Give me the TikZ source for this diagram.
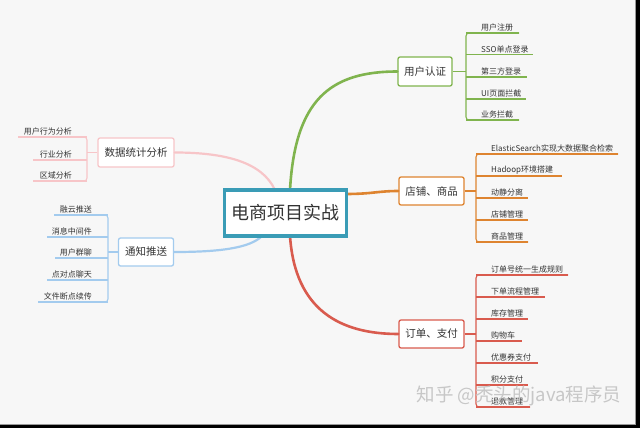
\documentclass[tikz,border=0pt]{standalone}
\usepackage{fontspec}
\setmainfont{Noto Sans CJK SC}
\begin{document}
\begin{tikzpicture}[x=1pt,y=-1pt,
  box/.style={draw, fill=white, rounded corners=2pt, line width=1.3pt, inner sep=0pt, text=txt, align=center},
  item/.style={inner sep=1pt, font=\fontsize{8}{9}\selectfont, text=txt},
  sub/.style={line width=1.1pt, rounded corners=3pt},
  main/.style={line width=2.6pt, line cap=round}]
\definecolor{bg}{HTML}{F7F7F7}
\definecolor{txt}{HTML}{333333}
\definecolor{cgreen}{HTML}{80B44E}
\definecolor{corange}{HTML}{DE8430}
\definecolor{cred}{HTML}{D95B4E}
\definecolor{cpink}{HTML}{F7C5C8}
\definecolor{cblue}{HTML}{A3CBEE}
\definecolor{cteal}{HTML}{3A9CB6}
\useasboundingbox (0,0) rectangle (640,428);
\fill[bg] (0,0) rectangle (640,428);
\fill[black!40] (0,423.5) rectangle (640,425);
\fill[black!40] (634.5,0) rectangle (636,428);
\fill[black] (0,425) rectangle (640,428);
\fill[black] (636,0) rectangle (640,428);

% main branch boxes
\node[box, draw=cgreen, minimum width=54pt, minimum height=29pt, font=\fontsize{10.5}{12}\selectfont] (auth) at (425,71.5) {用户认证};
\node[box, draw=corange, minimum width=65pt, minimum height=28pt, font=\fontsize{10.5}{12}\selectfont] (shop) at (431.5,191) {店铺、商品};
\node[box, draw=cred, minimum width=65pt, minimum height=28pt, font=\fontsize{10.5}{12}\selectfont] (order) at (431.5,334) {订单、支付};
\node[box, draw=cpink, minimum width=76pt, minimum height=29pt, font=\fontsize{10.5}{12}\selectfont] (stat) at (136,152.5) {数据统计分析};
\node[box, draw=cblue, minimum width=55pt, minimum height=28pt, font=\fontsize{10.5}{12}\selectfont] (push) at (146,252) {通知推送};

% center connectors
\coordinate (cTop) at (290,190);
\coordinate (cBot) at (290,236);
\coordinate (cRight) at (346,194);
\coordinate (cPink) at (275,190);
\coordinate (cBlue) at (262,236);
\draw[main, cgreen] (cTop) .. controls (295,100) and (330,71.5) .. (auth.west);
\draw[main, cred] (cBot) .. controls (295,310) and (340,334) .. (order.west);
\draw[main, corange] (cRight) .. controls (372,194) and (378,191) .. (shop.west);
\draw[main, cpink, line width=2.2pt] (cPink) .. controls (262,162) and (225,152.5) .. (stat.east);
\draw[main, cblue, line width=2.2pt] (cBlue) .. controls (250,248) and (220,252) .. (push.east);

% center node
\node[draw=cteal, line width=3.5pt, fill=white, minimum width=122pt, minimum height=46pt, inner sep=0pt, font=\fontsize{18}{20}\selectfont, text=txt] (root) at (285.5,213) {电商项目实战};

% 用户认证 items
\coordinate (ab) at (466,71.5);
\draw[sub, cgreen] (auth.east) -- (ab);
\draw[sub, cgreen] (519,33) -- (466,33) -- (466,120) -- (519,120);
\foreach \t/\y/\e [count=\i] in {用户注册/33/519, SSO单点登录/54.5/533, 第三方登录/77/527, UI页面拦截/99/526, 业务拦截/120/519}{
  \coordinate (ua\i) at (466,\y);
  \coordinate (ub\i) at (\e,\y);
  \draw[sub, cgreen] (ua\i) -- (ub\i);
  \node[item, anchor=south west] (ut\i) at (480,\y-0.5) {\t};
}

% 店铺、商品 items
\coordinate (sb) at (476,191);
\draw[sub, corange] (shop.east) -- (sb);
\draw[sub, corange] (618,154) -- (476,154) -- (476,242) -- (528,242);
\foreach \t/\y/\e [count=\i] in {ElasticSearch实现大数据聚合检索/154/618, Hadoop环境搭建/176/562, 动静分离/198/528, 店铺管理/220/528, 商品管理/242/528}{
  \coordinate (sa\i) at (476,\y);
  \coordinate (se\i) at (\e,\y);
  \draw[sub, corange] (sa\i) -- (se\i);
  \node[item, anchor=south west] (st\i) at (490,\y-0.5) {\t};
}

% 订单、支付 items
\coordinate (ob) at (476,334);
\draw[sub, cred] (order.east) -- (ob);
\draw[sub, cred] (568,275) -- (476,275) -- (476,407) -- (530,407);
\foreach \t/\y/\e [count=\i] in {订单号统一生成规则/275/568, 下单流程管理/297/545, 库存管理/319/528, 购物车/341/522, 优惠券支付/363/538, 积分支付/385/528, 退款管理/407/530}{
  \coordinate (oa\i) at (476,\y);
  \coordinate (oe\i) at (\e,\y);
  \draw[sub, cred] (oa\i) -- (oe\i);
  \node[item, anchor=south west] (ot\i) at (490,\y-0.5) {\t};
}

% 数据统计分析 items
\coordinate (db) at (87,152.5);
\draw[sub, cpink] (stat.west) -- (db);
\draw[sub, cpink] (18,137) -- (87,137) -- (87,181) -- (33,181);
\foreach \t/\y/\e [count=\i] in {用户行为分析/137/18, 行业分析/160/33, 区域分析/181/33}{
  \coordinate (da\i) at (87,\y);
  \coordinate (de\i) at (\e,\y);
  \draw[sub, cpink] (da\i) -- (de\i);
  \node[item, anchor=south east] (dt\i) at (73,\y-0.5) {\t};
}

% 通知推送 items
\coordinate (pb) at (108,252);
\draw[sub, cblue] (push.west) -- (pb);
\draw[sub, cblue] (54,215) -- (108,215) -- (108,302) -- (38,302);
\foreach \t/\y/\e [count=\i] in {融云推送/215/54, 消息中间件/237/47, 用户群聊/258/55, 点对点聊天/280/47, 文件断点续传/302/38}{
  \coordinate (pa\i) at (108,\y);
  \coordinate (pe\i) at (\e,\y);
  \draw[sub, cblue] (pa\i) -- (pe\i);
  \node[item, anchor=south east] (pt\i) at (93,\y-0.5) {\t};
}

% watermark
\node[inner sep=0pt, text=black!22, font=\fontsize{18.5}{20}\selectfont] (wm) at (519,396) {知乎 @秃头的java程序员};
\end{tikzpicture}
\end{document}
